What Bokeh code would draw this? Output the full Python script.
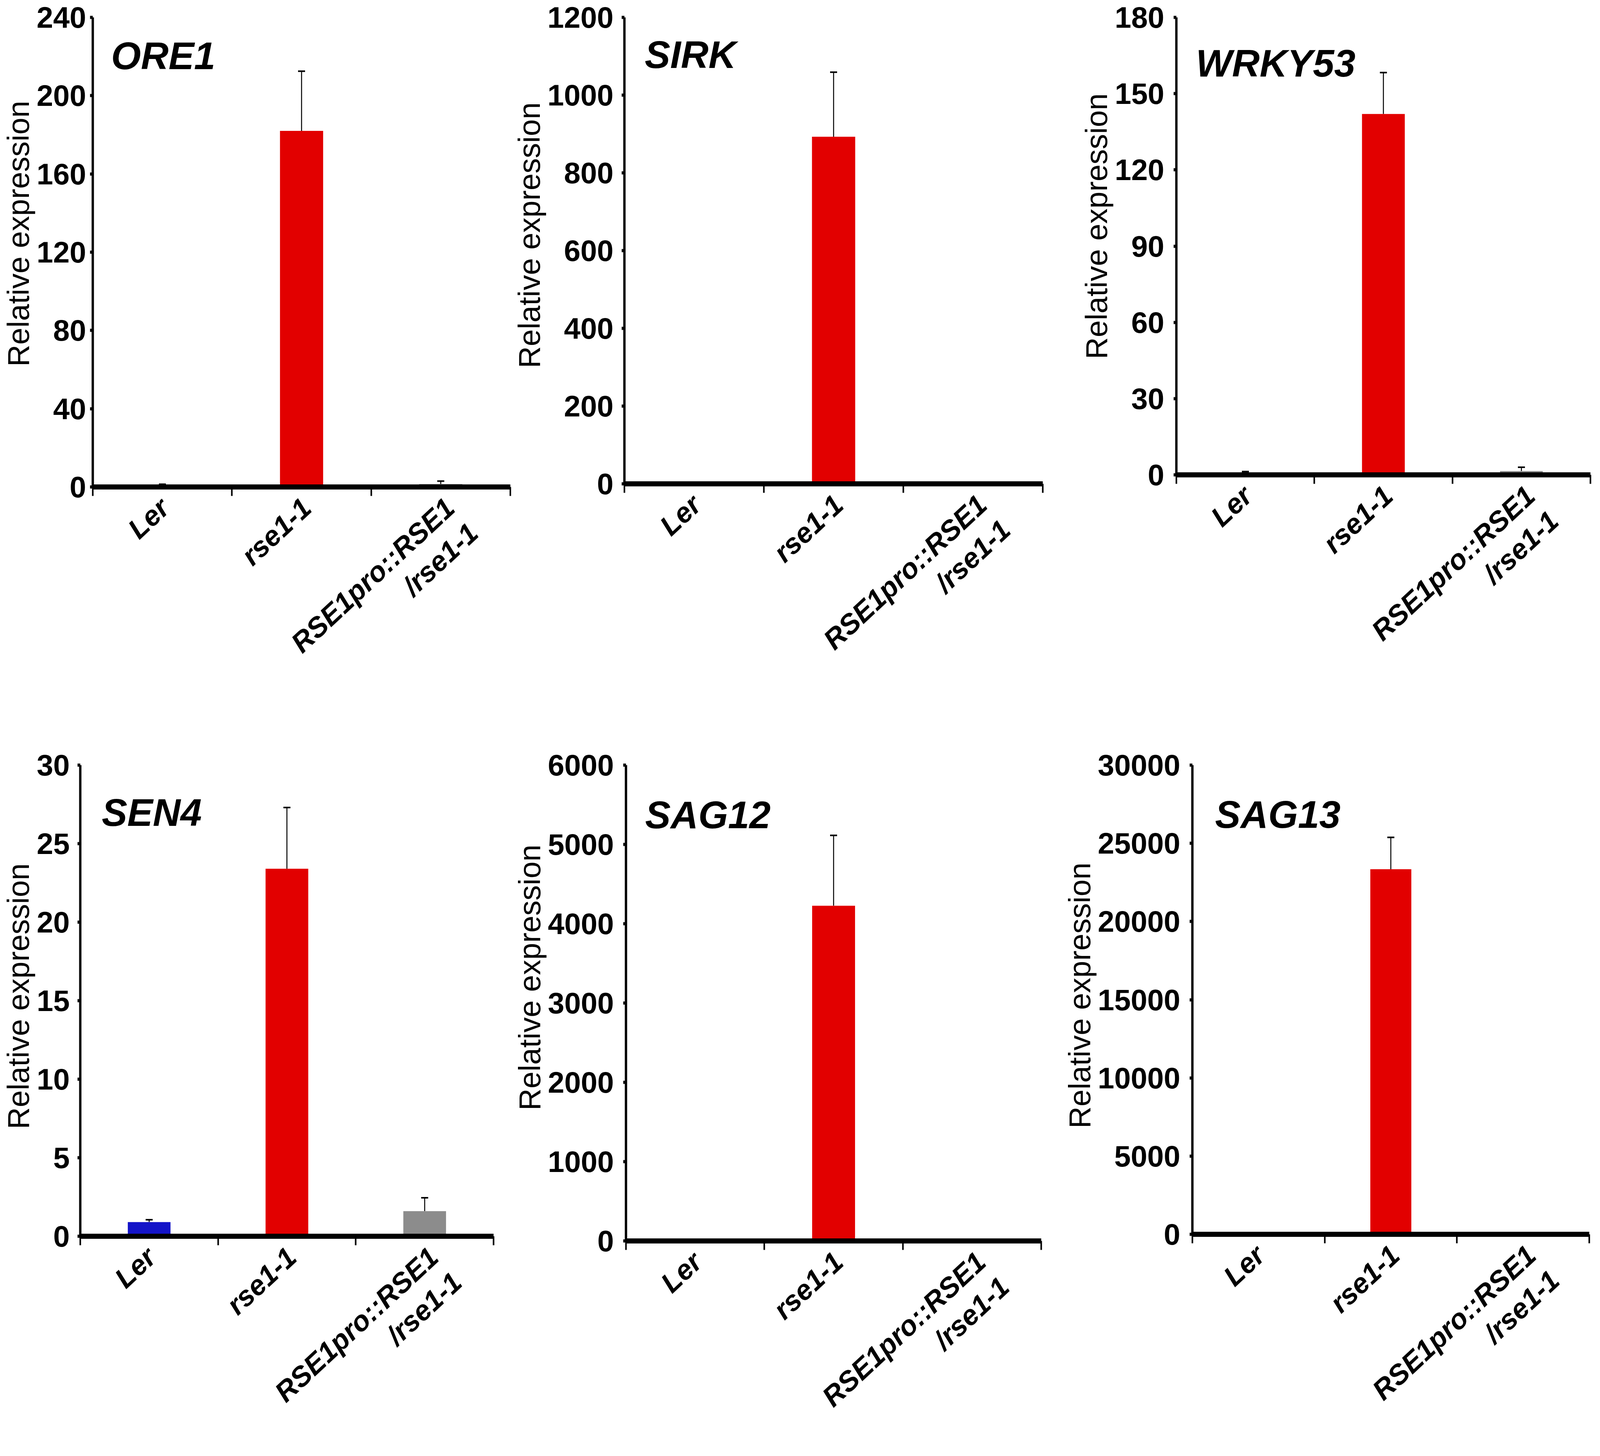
from bokeh.plotting import figure
from bokeh.models import (Range1d, FixedTicker, LinearAxis, Whisker, TeeHead,
                          ColumnDataSource, Label, Title)
from bokeh.layouts import column, row
from bokeh.embed import file_html
from bokeh.resources import INLINE

# ---------------- data ----------------
categories = ["Ler", "rse1-1", "RSE1pro::RSE1\n/rse1-1"]
bar_colors = ["#1414C8", "#E20000", "#8C8C8C"]

genes = ["ORE1", "SIRK", "WRKY53", "SEN4", "SAG12", "SAG13"]

ore1_mean = [1.0, 182.0, 1.5]
ore1_err = [0.4, 30.5, 1.5]
sirk_mean = [1.0, 893.0, 1.2]
sirk_err = [0.3, 166.0, 0.5]
wrky53_mean = [1.0, 142.0, 1.5]
wrky53_err = [0.3, 16.3, 1.5]
sen4_mean = [0.9, 23.4, 1.6]
sen4_err = [0.15, 3.9, 0.85]
sag12_mean = [1.0, 4227.0, 3.0]
sag12_err = [0.3, 887.0, 2.0]
sag13_mean = [1.0, 23340.0, 2.0]
sag13_err = [0.3, 2040.0, 1.0]

means = [ore1_mean, sirk_mean, wrky53_mean, sen4_mean, sag12_mean, sag13_mean]
errs = [ore1_err, sirk_err, wrky53_err, sen4_err, sag12_err, sag13_err]

y_max = [240, 1200, 180, 30, 6000, 30000]
y_step = [40, 200, 30, 5, 1000, 5000]

# ---------------- layout / style (CSS pixels) ----------------
# border_left, frame_width, border_right, border_top, frame_height, border_bottom
frames = [
    (231, 1073, 2, 44, 1202, 646),
    (284, 1076, 51, 44, 1194, 654),
    (290, 1064, 12, 44, 1171, 677),
    (199, 1061, 46, 66, 1206, 400),
    (293, 1067, 51, 60, 1218, 400),
    (332, 1020, 14, 61, 1201, 400),
]
ytick_standoff = [10, 21, 24, 20, 24, 24]
# gene-name label position (x from frame left, baseline y from frame bottom)
gene_pos = [(47, 1104), (52, 1099), (50, 1054), (55, 1085), (49, 1091), (58, 1075)]
# y-axis title: distance of text start from frame bottom
ylab_offset = [308, 296, 296, 274, 334, 271]
# horizontal nudge of category labels (category units)
label_nudge = [0.10, 0.12, 0.15]

FONT = "Liberation Sans"
XLAB_ANGLE = 0.75


def tick_text(lab):
    # every category label is laid out as a two-line block so that the
    # first lines of all labels line up under the axis
    return lab if "\n" in lab else lab + "\n"


def make_panel(i):
    bl, fw, br, bt, fh, bb = frames[i]
    n = len(categories)
    centers = list(range(n))
    bounds = [c - 0.5 for c in centers] + [centers[-1] + 0.5]

    p = figure(frame_width=fw, frame_height=fh, x_range=Range1d(bounds[0], bounds[-1]),
               y_range=Range1d(0, y_max[i]), output_backend="svg",
               toolbar_location=None, x_axis_location=None, y_axis_location=None,
               min_border_left=bl, min_border_right=br, min_border_top=bt,
               min_border_bottom=bb, title=None)
    p.outline_line_color = None
    p.background_fill_color = "white"
    p.border_fill_color = "white"
    for g in p.grid:
        g.visible = False

    upper = [m + e for m, e in zip(means[i], errs[i])]
    src = ColumnDataSource(dict(x=centers, top=means[i], upper=upper, color=bar_colors))
    p.vbar(x="x", top="top", bottom=0, width=0.31, color="color", line_color=None, source=src)

    p.add_layout(Whisker(source=src, base="x", lower="top", upper="upper", dimension="height",
                         line_width=2.5, line_color="black",
                         upper_head=TeeHead(size=18, line_width=4, line_color="black"),
                         lower_head=None))

    yticks = list(range(0, y_max[i] + 1, y_step[i]))
    yaxis = LinearAxis(ticker=FixedTicker(ticks=yticks, minor_ticks=[]))
    yaxis.axis_line_width = 6
    yaxis.axis_line_color = "black"
    yaxis.major_tick_out = 7
    yaxis.major_tick_in = 0
    yaxis.major_tick_line_width = 8
    yaxis.minor_tick_line_color = None
    yaxis.major_label_text_font = FONT
    yaxis.major_label_text_font_style = "bold"
    yaxis.major_label_text_font_size = "76px"
    yaxis.major_label_text_color = "black"
    yaxis.major_label_standoff = ytick_standoff[i]
    p.add_layout(yaxis, "left")

    p.add_layout(Title(text="Relative expression", align="left", offset=ylab_offset[i],
                       vertical_align="bottom", standoff=0,
                       text_font=FONT, text_font_style="normal",
                       text_font_size="78px", text_color="black"), "left")

    label_ticks = [round(c + d, 3) for c, d in zip(centers, label_nudge)]
    xaxis = LinearAxis(ticker=FixedTicker(ticks=label_ticks, minor_ticks=bounds))
    xaxis.major_label_overrides = {t: tick_text(lab) for t, lab in zip(label_ticks, categories)}
    xaxis.axis_line_width = 13
    xaxis.axis_line_color = "black"
    xaxis.major_tick_line_color = None
    xaxis.major_tick_out = 0
    xaxis.major_tick_in = 0
    xaxis.minor_tick_line_width = 4
    xaxis.minor_tick_line_color = "black"
    xaxis.minor_tick_out = 23
    xaxis.minor_tick_in = 0
    xaxis.major_label_orientation = XLAB_ANGLE
    xaxis.major_label_text_font = FONT
    xaxis.major_label_text_font_style = "bold italic"
    xaxis.major_label_text_font_size = "72px"
    xaxis.major_label_text_line_height = 1.1
    xaxis.major_label_text_color = "black"
    xaxis.major_label_standoff = 51
    p.add_layout(xaxis, "below")

    gx, gy = gene_pos[i]
    p.add_layout(Label(x=gx, y=gy, x_units="screen", y_units="screen", text=genes[i],
                       text_font=FONT, text_font_style="bold italic",
                       text_font_size="98px", text_color="black",
                       text_baseline="alphabetic", text_align="left"))
    return p


panels = [make_panel(i) for i in range(6)]
layout = column(row(*panels[:3]), row(*panels[3:]),
                width=4083, height=3696, sizing_mode="fixed",
                styles={"overflow": "hidden"})

open("out.html", "w").write(file_html(layout, INLINE))
